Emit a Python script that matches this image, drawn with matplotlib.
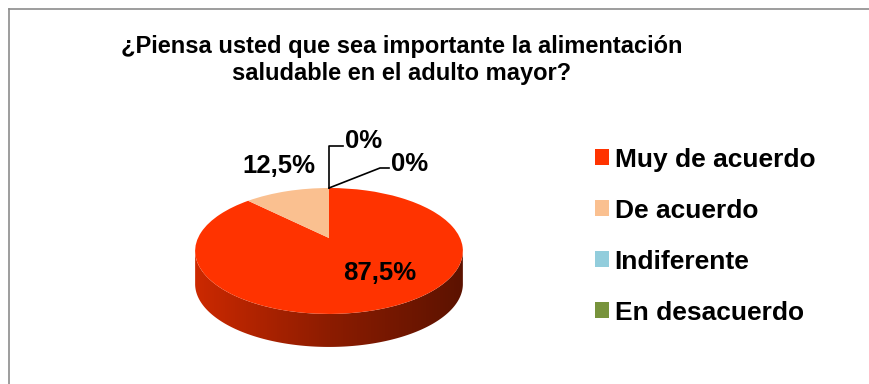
import numpy as np
import matplotlib
matplotlib.use("Agg")
from matplotlib import pyplot as plt
from matplotlib.colors import LinearSegmentedColormap, to_rgb
from matplotlib.patches import PathPatch
from matplotlib.path import Path
from matplotlib.lines import Line2D
from matplotlib.transforms import Transform

plt.rcParams['font.family'] = ['Liberation Sans', 'DejaVu Sans']

# datos
categorias = ['Muy de acuerdo', 'De acuerdo', 'Indiferente', 'En desacuerdo']
porcentajes = [87.5, 12.5, 0.0, 0.0]
etiquetas = ['87,5%', '12,5%', '0%', '0%']
colores = ['#FF3300', '#FAC090', '#92CDDC', '#77933C']
titulo = '¿Piensa usted que sea importante la alimentación\nsaludable en el adulto mayor?'

W, H = 869, 384


class Perspectiva(Transform):
    # el fondo del disco se ve mas chico que el frente
    input_dims = output_dims = 2

    def __init__(self, p):
        super().__init__()
        self.p = p

    def transform_non_affine(self, xy):
        xy = np.asarray(xy, dtype=float)
        f = 1 + self.p * xy[:, 1]
        return np.column_stack([xy[:, 0] / f, xy[:, 1] / f])

    def inverted(self):
        return PerspectivaInv(self.p)


class PerspectivaInv(Transform):
    input_dims = output_dims = 2

    def __init__(self, p):
        super().__init__()
        self.p = p

    def transform_non_affine(self, xy):
        xy = np.asarray(xy, dtype=float)
        f = 1 - self.p * xy[:, 1]
        return np.column_stack([xy[:, 0] / f, xy[:, 1] / f])

    def inverted(self):
        return Perspectiva(self.p)


fig = plt.figure(figsize=(W / 100, H / 100), dpi=100)
ax = fig.add_axes([0, 0, 1, 1])

# escala en pixeles
cx, cy = 329, 238
sx, sy = 131, 60.3
p = 0.206
depth = 33 / sy
persp = Perspectiva(p)

wedges, _ = ax.pie(porcentajes, colors=colores, startangle=90,
                   counterclock=False, radius=1,
                   wedgeprops=dict(linewidth=0, zorder=3))
for w in wedges:
    w.set_transform(persp + ax.transData)
ax.set_aspect('auto')
ax.axis('off')

# lado 3D de cada porcion (solo la parte visible del frente)
amin = 180 + np.degrees(np.arcsin(p))
amax = 360 - np.degrees(np.arcsin(p))
for w, col in zip(wedges, colores):
    if w.theta2 - w.theta1 <= 0:
        continue
    ang = np.linspace(w.theta1, w.theta2, 600) % 360
    vis = np.sort(ang[(ang >= amin) & (ang <= amax)])
    if len(vis) < 2:
        continue
    t = np.radians(vis)
    top = persp.transform(np.column_stack([np.cos(t), np.sin(t)]))
    bot = top[::-1] - [0, depth]
    verts = np.vstack([top, bot, top[:1]])
    patch = PathPatch(Path(verts, closed=True), facecolor='none', edgecolor='none')
    ax.add_patch(patch)
    r, g, b = to_rgb(col)
    cmap = LinearSegmentedColormap.from_list(
        'lado', [(r * 0.80, g * 0.80, b * 0.80), (r * 0.55, g * 0.55, b * 0.55),
                 (r * 0.36, g * 0.36, b * 0.36)])
    grad = np.linspace(0, 1, 256).reshape(1, -1)
    x0s, x1s = top[:, 0].min(), top[:, 0].max()
    im = ax.imshow(grad, cmap=cmap, aspect='auto', zorder=2,
                   extent=[x0s, x1s, top[:, 1].min() - depth, top[:, 1].max()],
                   interpolation='bilinear')
    im.set_clip_path(patch)

ax.set_xlim(-cx / sx, (W - cx) / sx)
ax.set_ylim(-(H - cy) / sy, cy / sy)


def px(x, y):
    return ((x - cx) / sx, (cy - y) / sy)


font_lbl = dict(fontsize=18.5, fontweight='bold', color='black', zorder=5)
ax.text(*px(380, 273), etiquetas[0], ha='center', va='center', **font_lbl)
ax.text(*px(279, 166), etiquetas[1], ha='center', va='center', **font_lbl)

# lineas guia para los 0%
x0, y0 = px(329, 188)
xa, ya = px(329, 146)
xb, yb = px(343, 146)
ax.plot([x0, xa, xb], [y0, ya, yb], color='black', lw=1.2, zorder=5)
ax.text(*px(345, 141), etiquetas[2], ha='left', va='center', **font_lbl)
xc, yc = px(380, 168)
xd, yd = px(389, 168)
ax.plot([x0, xc, xd], [y0, yc, yd], color='black', lw=1.2, zorder=5)
ax.text(*px(391, 164), etiquetas[3], ha='left', va='center', **font_lbl)

fig.text(402 / W, 1 - 60 / H, titulo, ha='center', va='center',
         fontsize=17, fontweight='bold', linespacing=1.2)

leg = fig.legend(wedges, categorias, loc='upper left',
                 bbox_to_anchor=(571 / W, 1 - 124 / H),
                 frameon=False, handlelength=0.55, handleheight=0.55,
                 handletextpad=0.2, labelspacing=1.02,
                 prop=dict(size=19, weight='bold'))

# marco del grafico
fig.add_artist(Line2D([9 / W, 1], [1 - 9 / H, 1 - 9 / H], color='#8c8c8c', lw=1.2))
fig.add_artist(Line2D([9 / W, 9 / W], [0, 1 - 9 / H], color='#8c8c8c', lw=1.2))

fig.savefig('out.png', dpi=100)
